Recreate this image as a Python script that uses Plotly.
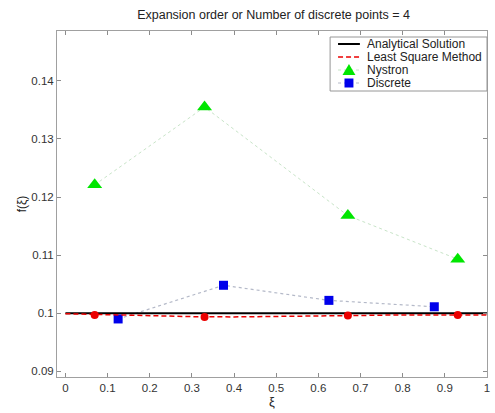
import plotly.graph_objects as go

# Collocation / quadrature nodes on [0, 1]
gauss_x = [0.0694, 0.33, 0.67, 0.9306]
discrete_x = [0.125, 0.375, 0.625, 0.875]

# Solutions for N = 4
nystron_y = [0.1221, 0.1355, 0.1168, 0.1093]
discrete_y = [0.0990, 0.1048, 0.1022, 0.1011]
lsm_nodes_y = [0.0997, 0.09935, 0.0996, 0.0997]

# Continuous curves
curve_x = [0.0, 0.1, 0.2, 0.3, 0.4, 0.5, 0.6, 0.7, 0.8, 0.9, 1.0]
analytical_y = [0.1] * len(curve_x)
lsm_curve_y = [0.0999, 0.0997, 0.0995, 0.0994, 0.09935, 0.0994, 0.0995,
               0.0996, 0.0997, 0.0997, 0.0997]

x_ticks = [0, 0.1, 0.2, 0.3, 0.4, 0.5, 0.6, 0.7, 0.8, 0.9, 1]
x_tick_text = ["0", "0.1", "0.2", "0.3", "0.4", "0.5", "0.6", "0.7", "0.8", "0.9", "1"]
y_ticks = [0.09, 0.10, 0.11, 0.12, 0.13, 0.14]
y_tick_text = ["0.09", "0.1", "0.11", "0.12", "0.13", "0.14"]

legend_labels = ["Analytical Solution", "Least Square Method", "Nystron", "Discrete"]

FONT = "Liberation Sans, Arial, sans-serif"
GREEN = "rgb(0,230,0)"
BLUE = "rgb(0,0,235)"
RED = "rgb(235,0,0)"
LSM_DASH = "5px,3px"

fig = go.Figure()

fig.add_trace(go.Scatter(x=gauss_x, y=nystron_y, mode="lines+markers",
                         line=dict(color="rgb(200,228,200)", width=1, dash="dot"),
                         marker=dict(symbol="triangle-up", size=13, color=GREEN),
                         showlegend=False))
fig.add_trace(go.Scatter(x=discrete_x, y=discrete_y, mode="lines+markers",
                         line=dict(color="rgb(180,185,200)", width=1.2, dash="dot"),
                         marker=dict(symbol="square", size=9, color=BLUE),
                         showlegend=False))
fig.add_trace(go.Scatter(x=curve_x, y=analytical_y, mode="lines",
                         line=dict(color="black", width=2), showlegend=False))
fig.add_trace(go.Scatter(x=curve_x, y=lsm_curve_y, mode="lines",
                         line=dict(color=RED, width=1.5, dash=LSM_DASH), showlegend=False))
fig.add_trace(go.Scatter(x=gauss_x, y=lsm_nodes_y, mode="markers",
                         marker=dict(symbol="circle", size=8, color=RED),
                         showlegend=False))

# Legend box drawn in pixel-like paper coordinates
W, H = 495, 413
ML, MR, MT, MB = 57, 5, 31, 36
pw, ph = W - ML - MR, H - MT - MB


def px(x):
    return (x - ML) / pw


def py(y):
    return 1 - (y - MT) / ph


shapes = [dict(type="rect", xref="paper", yref="paper",
               x0=px(332), x1=px(490), y0=py(91), y1=py(37),
               line=dict(color="rgb(150,150,150)", width=1), fillcolor="white")]
rows = [44, 57, 70, 83]
# sample lines
shapes.append(dict(type="line", xref="paper", yref="paper", x0=px(340), x1=px(362),
                   y0=py(rows[0]), y1=py(rows[0]), line=dict(color="black", width=2)))
shapes.append(dict(type="line", xref="paper", yref="paper", x0=px(340), x1=px(362),
                   y0=py(rows[1]), y1=py(rows[1]), line=dict(color=RED, width=1.5, dash=LSM_DASH)))
shapes.append(dict(type="line", xref="paper", yref="paper", x0=px(340), x1=px(362),
                   y0=py(rows[2]), y1=py(rows[2]),
                   line=dict(color="rgb(200,228,200)", width=1, dash="dot")))
shapes.append(dict(type="line", xref="paper", yref="paper", x0=px(340), x1=px(362),
                   y0=py(rows[3]), y1=py(rows[3]),
                   line=dict(color="rgb(180,185,200)", width=1, dash="dot")))
# sample markers
cx = 351
tri = "M {a},{b} L {c},{d} L {e},{f} Z".format(
    a=px(cx - 6.5), b=py(rows[2] + 5), c=px(cx + 6.5), d=py(rows[2] + 5),
    e=px(cx), f=py(rows[2] - 6))
shapes.append(dict(type="path", xref="paper", yref="paper", path=tri,
                   fillcolor=GREEN, line=dict(color=GREEN, width=0)))
shapes.append(dict(type="rect", xref="paper", yref="paper",
                   x0=px(cx - 4.5), x1=px(cx + 4.5), y0=py(rows[3] + 4.5), y1=py(rows[3] - 4.5),
                   fillcolor=BLUE, line=dict(color=BLUE, width=0)))

annotations = []
for r, lab in zip(rows, legend_labels):
    annotations.append(dict(x=px(367), y=py(r), xref="paper", yref="paper",
                            text=lab, showarrow=False, xanchor="left", yanchor="middle",
                            font=dict(family=FONT, size=12, color="#222")))

fig.update_layout(
    width=W, height=H,
    margin=dict(l=ML, r=MR, t=MT, b=MB),
    paper_bgcolor="white", plot_bgcolor="white",
    shapes=shapes, annotations=annotations,
    title=dict(text="Expansion order or Number of discrete points = 4",
               x=(ML + pw / 2) / W, xanchor="center", y=1 - 15 / H, yanchor="middle",
               font=dict(family=FONT, size=12.5, color="#222")),
    showlegend=False,
)
fig.update_xaxes(range=[-0.02, 1.0], tickvals=x_ticks, ticktext=x_tick_text,
                 ticks="inside", ticklen=4, tickcolor="rgb(140,140,140)",
                 showline=True, linecolor="rgb(160,160,160)", linewidth=1, mirror="ticks",
                 showgrid=False, zeroline=False,
                 tickfont=dict(family=FONT, size=11.5, color="#333"),
                 title=dict(text="ξ", font=dict(family=FONT, size=13, color="#222"), standoff=4))
fig.update_yaxes(range=[0.089, 0.1486], tickvals=y_ticks, ticktext=y_tick_text,
                 ticks="inside", ticklen=4, tickcolor="rgb(140,140,140)",
                 showline=True, linecolor="rgb(160,160,160)", linewidth=1, mirror="ticks",
                 showgrid=False, zeroline=False,
                 tickfont=dict(family=FONT, size=11.5, color="#333"),
                 title=dict(text="f(ξ)", font=dict(family=FONT, size=12, color="#222"), standoff=2))

fig.write_html("out.html")
